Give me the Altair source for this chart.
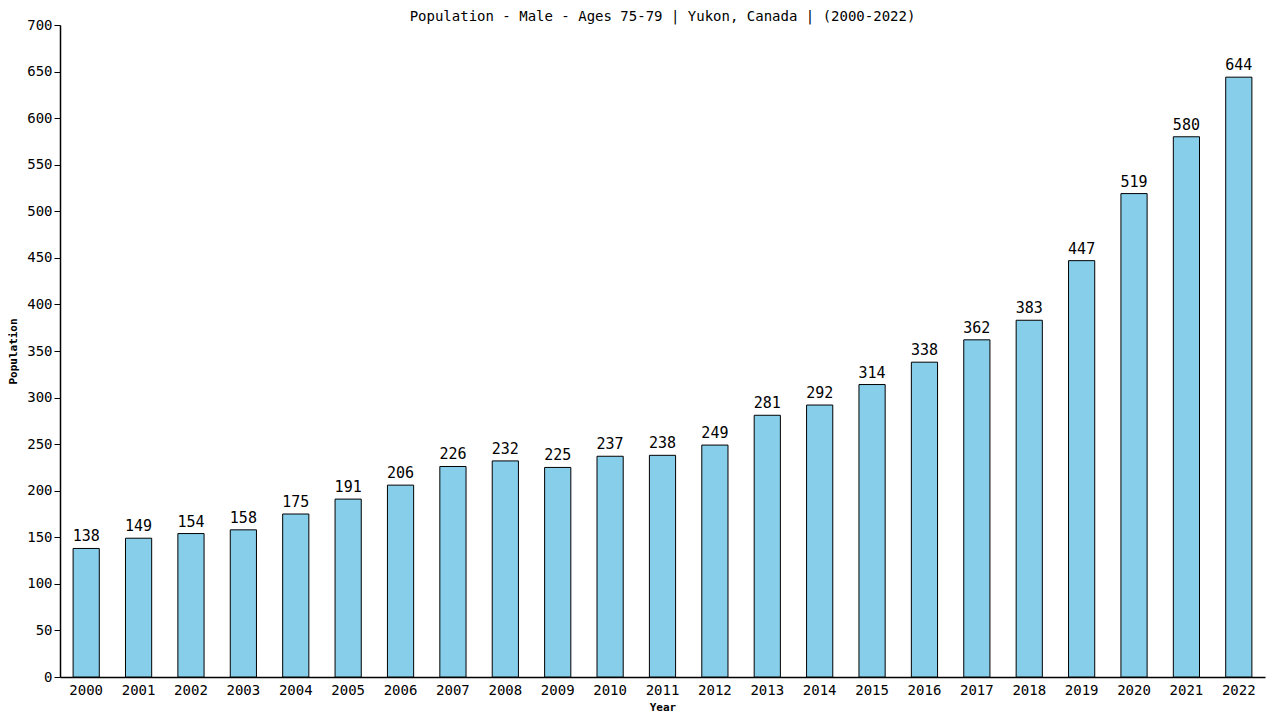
import altair as alt
import pandas as pd

years = [str(y) for y in range(2000, 2023)]
values = [138, 149, 154, 158, 175, 191, 206, 226, 232, 225, 237, 238, 249, 281, 292, 314, 338, 362, 383, 447, 519, 580, 644]

df = pd.DataFrame({"Year": years, "Population": values})

FONT = "DejaVu Sans Mono"

base = alt.Chart(df).encode(
    x=alt.X("Year:N", sort=years,
            scale=alt.Scale(paddingInner=0.5, paddingOuter=0.25),
            axis=alt.Axis(title="Year", labelAngle=0, ticks=False, labelFontSize=14,
                          labelPadding=6, titleFontSize=11, titleFont=FONT, labelFont=FONT,
                          titleFontWeight="bold", domainColor="black", labelColor="black",
                          titlePadding=4)),
    y=alt.Y("Population:Q", scale=alt.Scale(domain=[0, 700], nice=False),
            axis=alt.Axis(title="Population", values=list(range(0, 701, 50)), grid=False,
                          labelFontSize=14, labelFont=FONT, titleFont=FONT, titleFontSize=11,
                          titleFontWeight="bold", tickSize=6, tickColor="black",
                          domainColor="black", labelColor="black", titlePadding=8)),
)

bars = base.mark_bar(color="#87ceeb", stroke="black", strokeWidth=1)
labels = base.mark_text(dy=-12, fontSize=15, font=FONT, color="black").encode(
    text="Population:Q")

chart = (bars + labels).properties(
    width=1205, height=652,
    title=alt.TitleParams("Population - Male - Ages 75-79 | Yukon, Canada |  (2000-2022)",
                          font=FONT, fontSize=14, fontWeight="normal", anchor="middle",
                          offset=0, dy=6),
    autosize=alt.AutoSizeParams(type="none"),
    padding={"left": 52, "top": 17, "right": 7, "bottom": 35},
).configure_view(stroke=None).configure_axis(domainWidth=1.5)

chart.save("out.html", embed_options={"renderer": "svg", "actions": False})
